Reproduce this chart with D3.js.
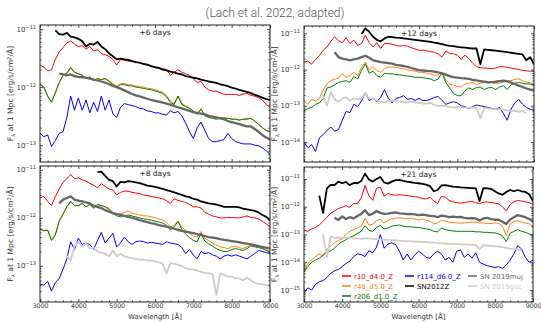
<!DOCTYPE html>
<html>
<head>
<meta charset="utf-8">
<script src="https://cdn.jsdelivr.net/npm/d3@7"></script>
<style>
  body { margin: 0; background: #fff; }
  svg { display: block; }
  text { font-family: "DejaVu Sans", sans-serif; }
</style>
</head>
<body>
<svg id="chart" width="541" height="323"></svg>
<script>
// Wavelength grid (Å) shared by every spectrum
const WAVELENGTH = [3000,3100,3200,3300,3400,3500,3600,3700,3800,3900,
  4000,4100,4200,4300,4400,4500,4600,4700,4800,4900,
  5000,5100,5200,5300,5400,5500,5600,5700,5800,5900,
  6000,6100,6200,6300,6400,6500,6600,6700,6800,6900,
  7000,7100,7200,7300,7400,7500,7600,7700,7800,7900,
  8000,8100,8200,8300,8400,8500,8600,8700,8800,8900,
  9000];

// Flux values are in units of 1e-13 erg/s/cm^2/Å (at 1 Mpc)
const FLUX_UNIT = 1e-13;

const SERIES_KEYS = ["r10", "r48", "r206", "r114", "sn2012z", "sn2019muj", "sn2019gsc"];
const SERIES_LABELS = ["r10_d4.0_Z", "r48_d5.0_Z", "r206_d1.0_Z", "r114_d6.0_Z", "SN2012Z", "SN 2019muj", "SN 2019gsc"];
const EPOCH_LABELS = ["+6 days", "+12 days", "+8 days", "+21 days"];
const X_TICKS = [3000, 4000, 5000, 6000, 7000, 8000, 9000];

// ---- +6 days ----
const flux6_r10 = [
  24,22,19,20,30,40,48,58,62,55,
  50,52,45,50,42,44,38,36,34,30,
  24,30,29,28,28,27,26,25,24,23,
  22,21,21,20,16,18,20,18,17,16,
  14,12,12.5,10,9,8.5,8.5,8,7.5,7.5,
  7.5,7.5,7.2,7.6,7.8,7.2,7,6.6,6,5,
  4.5];
const flux6_r48 = [
  11.5,10,7,5.5,8,12,16,17,21,18,
  17,16,14,15,13,14,13.5,14,13,11.5,
  10.5,11.5,11.5,11,11,10.5,10.2,10,9.6,9.4,
  9,8.6,8.2,7.2,5.8,5.2,7,5.2,4.8,4.4,
  3.9,3.5,4.2,3.3,3.1,3,2.9,3,3,2.9,
  2.8,2.8,2.7,2.8,2.9,2.9,2.6,2.3,2,1.8,
  1.7];
const flux6_r206 = [
  11,10,7,5.5,8,12,16,17.5,22,18,
  17,16,14,15,13,14,13.5,14,12.5,11,
  10,11,11,10.5,10.5,10,9.8,9.5,9.2,9,
  8.6,8.2,7.8,6.8,5.5,5,7,5,4.6,4.3,
  3.8,3.4,4.2,3.2,3,2.9,2.8,2.9,2.9,2.9,
  2.8,2.8,2.7,2.8,2.8,2.9,2.6,2.3,2,1.8,
  1.7];
const flux6_r114 = [
  1.6,1.4,1.5,0.95,1.2,1.6,1.7,3,7,4,
  6.5,4,6,3.6,5.5,3.8,7,4,6,3.5,
  3,4.5,5.2,5,4.8,4.6,4.3,4.2,3.9,3.8,
  3.6,3.6,3.4,3.3,3.9,3.6,3.8,3.2,2.4,1.7,
  1.3,2,2.5,1.8,1.3,1.15,1.15,1.2,1.25,1.6,
  1.3,1.15,1.1,1.05,1.05,1.05,1,0.98,0.9,0.8,
  0.7];
const flux6_sn2012z = [
  null,null,null,null,95,82,80,86,74,72,
  68,62,50,56,54,60,50,45,38,34,
  30,31,30,29.5,28,27,26.5,25,24.5,23,
  22,21.5,20,19.5,18.5,18,17,16.5,15.5,15,
  14.5,14.2,13.5,13,12.5,12.2,11.8,11.2,10.8,10.4,
  9.8,9.4,9,8.6,8.3,7.9,7.4,7,6.6,6.2,
  6];
const flux6_sn2019muj = [
  null,null,null,null,null,17,16.5,16,16.5,15.5,
  15,14.8,14.5,14,13.5,13,12.5,12,11.2,10.5,
  10,9.4,8.8,8.2,7.6,7.2,6.9,6.6,6.3,6,
  5.8,5.6,5.4,5.2,5,4.7,4.5,4.3,4.1,3.9,
  3.7,3.6,3.5,3.4,3.2,3.1,3,2.9,2.8,2.6,
  2.5,2.4,2.3,2.2,2.1,2.1,1.9,1.7,1.5,1.35,
  1.25];

// ---- +12 days ----
const flux12_r10 = [
  16,17,14,19,24,34,42,60,80,62,
  55,75,52,65,46,52,88,55,42,55,
  38,52,52,50,46,44,46,44,40,37,
  34,34,33,31,30,27,22,32,28,27,
  25,19,25,20,15,12,11.2,11,10.8,10.5,
  11,12,12,11.5,11,10.5,10,9.5,9.2,9,
  9];
const flux12_r48 = [
  1.35,1.1,1.5,1.35,1.6,2.7,4,4.9,5.4,5.8,
  7.6,6.1,6.8,8.4,6.8,11.6,16,9.4,12,9.4,
  8.4,10.5,11.6,11.6,11.6,10.9,10.5,9.8,9.4,9,
  8.4,8.4,7.9,7.6,6.8,7.2,8.4,5.1,4,3.7,
  3.4,3.3,4,4.2,4.4,3.8,4.2,4.4,4.7,4.4,
  4,4.2,4.6,4.9,4.9,5.4,5.5,4.9,4.5,4.3,
  4];
const flux12_r206 = [
  0.71,0.84,0.9,1.1,1.2,1.6,3.1,3.3,3.8,4.4,
  4.7,4.9,4.4,6.4,5.5,9.4,14.4,7.9,9,6.8,
  6.1,7.9,7.6,7.6,7.2,7.1,6.8,6.6,6.4,6.1,
  6.1,6,5.7,5.5,4.9,5.5,8.1,4.4,3.1,2.2,
  1.9,1.9,2.6,3.1,2.8,3.2,3.3,2.8,3.1,3.2,
  2.8,3.3,3.6,2.8,3.8,4.2,4.4,4.2,4,4,
  3.6];
const flux12_r114 = [
  0.1,0.07,0.085,0.055,0.13,0.16,0.21,0.26,0.2,0.22,
  0.4,0.7,0.65,1.1,0.95,1.35,2.3,1.4,1.6,1.3,
  1.7,2.8,1.6,1.2,1.6,1.7,1.9,1.5,1.6,1.4,
  1.6,1.4,1.4,1.5,1.7,1.8,1.4,1.1,1.2,1.3,
  1.2,1,0.95,0.85,0.95,1.05,1,0.95,0.9,0.85,
  0.8,0.9,0.62,0.4,0.8,1.2,1.5,1.1,0.9,0.8,
  0.75];
const flux12_sn2012z = [
  null,null,null,null,null,null,null,null,null,null,
  null,null,null,null,null,95,135,110,80,66,
  60,72,80,78,76,75,72,70,68,66,
  64,62,60,58,55,53,50,47,45,44,
  42,41,40,39,38,38,14,36,35,34,
  33,32,31,30,29,28,27,26,18,22,
  14];
const flux12_sn2019muj = [
  null,null,null,null,null,null,null,null,30,22,
  20,19,18,19,20,22,24,21,18,17,
  16,15.5,15,14.5,13.5,13,12.5,11.8,11,10.3,
  9.6,9.4,9.2,9,8.7,8.4,7.8,7.2,6.6,6.2,
  6,5.8,5.7,5.5,5.2,5,4.8,4.6,4.4,4.5,
  4.6,4.8,4.9,4.7,4.4,4,3.6,3.3,3,2.8,
  2.6];
const flux12_sn2019gsc = [
  null,null,null,null,null,1.8,1,2.4,1.5,1.3,
  1.6,1.7,1.4,1.6,1.5,1.6,2.3,1.6,1.6,1.4,
  1.3,1.25,1.35,1.4,1.35,1.3,1.25,1.25,1.3,1.25,
  1.2,1.15,1.15,1.2,1.05,1,1,0.98,0.92,0.9,
  0.92,0.9,0.9,0.88,0.9,0.88,0.45,0.88,0.85,0.82,
  0.8,0.82,0.78,0.75,0.72,0.74,0.68,0.72,0.62,null,
  null];

// ---- +8 days ----
const flux8_r10 = [
  26,28,22,18,28,40,55,65,80,65,
  68,62,58,52,48,42,52,45,40,38,
  30,34,36,36,34,33,32,30,29,28,
  27,26,25,23,20,25,23,22,21,19,
  17,17,16,13,12,11,10.5,10,10,10.2,
  10.2,10,10,10.5,11,10.2,10,9.5,8.5,7.5,
  6.5];
const flux8_r48 = [
  6,5.5,5.5,3.5,4.5,8.5,12,17,22,18,
  18,20,17,19,16,19,18,17,16,13,
  12,12,13,14,12.5,12,11.5,11,11,10.5,
  10.2,9.5,9,8,6.5,7,8.5,6.5,5.5,4.8,
  4.2,4,5.2,3.8,3.4,3,2.7,2.5,2.4,2.3,
  2.5,2.6,2.4,2.3,2.5,2.7,2.6,2.5,2.4,2.2,
  2];
const flux8_r206 = [
  5.8,5.4,5.6,3.4,4.4,8.5,12,17,22,18,
  18,20,17,19,16,19,18,17,15,12.5,
  11,10.5,11,11.5,11,10.5,10,9.6,9.3,9,
  8.6,8.2,7.8,7,5.6,6.5,8.5,5.8,4.6,3.9,
  3.4,3.2,4.8,3.3,2.9,2.6,2.3,2.1,2,2,
  2.2,2.3,2.2,2.1,2.3,2.6,2.5,2.4,2.3,2.1,
  1.9];
const flux8_r114 = [
  0.42,0.4,0.48,0.3,0.45,0.55,0.85,1.4,3.2,2.2,
  3.8,2.8,3,2.8,2.2,3.4,5,3,3.8,4.8,
  2.5,3,4,3.2,2.8,3.2,3.3,3.2,3,3.1,
  3,2.9,2.8,3.2,3,2.9,2.8,2.4,1.8,2.2,
  1.7,1.4,2,1.8,1.9,1.7,1.6,1.4,1.6,1.7,
  1.6,1.7,1.6,1.5,1.4,1.6,1.8,2.1,2,1.9,
  1.8];
const flux8_sn2012z = [
  null,null,null,null,null,null,null,null,null,null,
  null,null,null,null,null,90,92,75,62,58,
  45,56,55,58,57,55,53,50,47,46,
  44,42,40,38,36,34,32,30,28,27,
  25,24,22,21,20,19.5,19,18,17,17,
  17,17,16.5,15.5,15,14.5,14,13,11.5,10.5,
  9];
const flux8_sn2019muj = [
  null,null,null,null,null,20,24,26,28,24,
  23,22,21,20,18,17,16,14.5,13.5,12.5,
  12,11.5,11,10.5,10,9.5,9,8.6,8.2,7.8,
  7.5,7.1,6.8,6.6,6.3,6,5.6,5.4,5.2,5,
  4.8,4.6,4.4,4.2,4,3.9,3.8,3.6,3.5,3.4,
  3.3,3.2,3.1,3,2.9,2.8,2.7,2.6,2.5,2.4,
  2.3];
const flux8_sn2019gsc = [
  null,null,null,null,null,null,null,1.6,1.3,2.6,
  3.2,2.5,3,2.3,2.4,2,1.9,1.8,1.6,2.1,
  1.6,1.8,1.6,1.5,1.45,1.4,1.35,1.35,1.3,1.3,
  1.25,1.2,1.1,0.7,1.15,1.1,1.05,1,0.9,0.85,
  0.85,0.8,0.75,0.72,0.7,0.68,0.25,0.7,0.65,0.6,
  0.6,0.55,0.55,0.5,0.58,0.5,0.45,0.42,0.42,0.4,
  0.4];

// ---- +21 days ----
const flux21_r10 = [
  1.4,1.3,1.6,1.8,2.2,3,4.2,5.8,7,8.6,
  9.5,11,9.5,13,13,21,58,25,17,46,
  50,24,30,27,26,27,26,25,24,23,
  22,20,19,22,16,13,24,22,17,15,
  14,13.5,14,15,15.5,14,13,14.5,15,14,
  13.5,12.5,10,7,12,15,17,16,15,14,
  12];
const flux21_r48 = [
  0.05,0.09,0.12,0.16,0.2,0.17,0.3,0.38,0.5,0.6,
  0.7,1,1.3,1.5,1.7,2,3.8,2.2,2.3,3.2,
  3.6,2.6,3.2,3.6,3.9,4,3.8,3.7,3.9,3.6,
  3.4,3.6,3.3,3,2.4,2.6,3.3,3,2.8,2.7,
  2.6,2.6,2.6,2.7,2.8,2.8,2.6,2.6,2.5,2.5,
  2.6,2.5,2,0.9,2.4,3,3.1,2.8,2.6,2.4,
  2];
const flux21_r206 = [
  0.045,0.07,0.1,0.12,0.14,0.18,0.23,0.26,0.32,0.45,
  0.55,0.65,0.8,0.9,1.1,1.3,2.1,1.4,1.3,1.8,
  2.1,1.6,1.7,2,2.1,2.2,2,1.9,1.9,1.8,
  1.8,1.7,1.6,1.5,1.3,1.25,1.7,1.5,1.4,1.35,
  1.3,1.3,1.3,1.3,1.3,1.25,1.25,1.2,1.2,1.15,
  1.15,1.05,0.9,0.55,1.1,1.3,1.5,1.3,1.2,1.05,
  0.95];
const flux21_r114 = [
  0.008,0.012,0.01,0.016,0.02,0.022,0.028,0.04,0.05,0.055,
  0.07,0.09,0.11,0.16,0.2,0.19,0.16,0.26,0.22,0.35,
  1,0.32,0.45,0.5,0.43,0.25,0.12,0.2,0.12,0.18,
  0.25,0.2,0.15,0.14,0.2,0.25,0.2,0.12,0.15,0.1,
  0.25,0.28,0.15,0.2,0.14,0.22,0.1,0.085,0.075,0.07,
  0.065,0.07,0.06,0.08,0.12,0.2,0.4,0.3,0.15,0.1,
  0.12];
const flux21_sn2012z = [
  null,null,null,null,25,6,46,61,60,80,
  70,78,60,72,70,85,155,95,80,100,
  118,75,68,80,90,92,85,80,76,72,
  70,66,62,55,36,40,58,60,56,53,
  52,50,49,48,47,46,16,47,46,44,
  36,30,27,34,40,36,40,36,34,28,
  16];
const flux21_sn2019muj = [
  null,null,null,null,null,null,null,null,4,3.3,
  4.5,3.6,4.2,3.8,4.6,5.5,7.5,5,5.6,7,
  6,5.5,5.6,6,6.2,5.8,5.6,5.4,5.5,5.3,
  5,5.2,5,4.7,4.6,4.2,4.8,4.6,4.2,4.4,
  4.2,4.3,4,3.8,3.9,3.8,3.2,3.8,4,3.6,
  3.4,3.4,2.9,2.4,3.5,4.2,5,4.6,4.2,3.6,
  3];
const flux21_sn2019gsc = [
  null,null,null,null,null,1,0.15,0.85,0.75,0.78,
  0.75,0.76,0.78,0.72,0.72,0.7,0.72,0.72,0.7,0.7,
  0.66,0.65,0.64,0.63,0.62,0.6,0.59,0.58,0.57,0.56,
  0.54,0.54,0.53,0.52,0.51,0.49,0.48,0.47,0.46,0.46,
  0.45,0.44,0.44,0.43,0.42,0.42,0.3,0.41,0.4,0.39,
  0.38,0.37,0.35,0.33,0.31,0.3,0.29,0.27,null,null,
  null];

// ---------------------------------------------------------------
// Styling and layout
const SERIES_STYLE = {
  r10:       { color: "#ff0000", width: 1.0 },
  r48:       { color: "#ff7f0e", width: 1.0 },
  r206:      { color: "#008000", width: 1.0 },
  r114:      { color: "#0000ff", width: 1.0 },
  sn2012z:   { color: "#000000", width: 1.8 },
  sn2019muj: { color: "#666666", width: 2.3 },
  sn2019gsc: { color: "#cccccc", width: 1.8 }
};

const panels = [
  { label: EPOCH_LABELS[0], box: [40, 270, 25, 162], logRange: [-13.29, -10.93],
    spectra: { r10: flux6_r10, r48: flux6_r48, r206: flux6_r206, r114: flux6_r114,
               sn2012z: flux6_sn2012z, sn2019muj: flux6_sn2019muj } },
  { label: EPOCH_LABELS[1], box: [304, 534, 26, 162], logRange: [-14.55, -10.8],
    spectra: { r10: flux12_r10, r48: flux12_r48, r206: flux12_r206, r114: flux12_r114,
               sn2012z: flux12_sn2012z, sn2019muj: flux12_sn2019muj, sn2019gsc: flux12_sn2019gsc } },
  { label: EPOCH_LABELS[2], box: [40, 270, 166, 302], logRange: [-13.75, -10.92], xLabels: true,
    spectra: { r10: flux8_r10, r48: flux8_r48, r206: flux8_r206, r114: flux8_r114,
               sn2012z: flux8_sn2012z, sn2019muj: flux8_sn2019muj, sn2019gsc: flux8_sn2019gsc } },
  { label: EPOCH_LABELS[3], box: [304, 533, 167, 302], logRange: [-15.43, -10.57], xLabels: true, legend: true,
    spectra: { r10: flux21_r10, r48: flux21_r48, r206: flux21_r206, r114: flux21_r114,
               sn2012z: flux21_sn2012z, sn2019muj: flux21_sn2019muj, sn2019gsc: flux21_sn2019gsc } }
];

const svg = d3.select("#chart");
const TEXT_COLOR = "#333";

svg.append("text")
  .attr("x", 275).attr("y", 17)
  .attr("text-anchor", "middle")
  .style("font-family", "Roboto, sans-serif")
  .style("font-weight", 300)
  .style("font-size", "12px")
  .attr("fill", "#555")
  .text("(Lach et al. 2022, adapted)");

panels.forEach((p, i) => {
  const [x0, x1, y0, y1] = p.box;
  const x = d3.scaleLinear().domain([3000, 9000]).range([x0, x1]);
  const y = d3.scaleLog().domain([Math.pow(10, p.logRange[0]), Math.pow(10, p.logRange[1])]).range([y1, y0]);
  const g = svg.append("g");

  const clipId = "clip" + i;
  g.append("clipPath").attr("id", clipId).append("rect")
    .attr("x", x0).attr("y", y0).attr("width", x1 - x0).attr("height", y1 - y0);

  const plot = g.append("g").attr("clip-path", `url(#${clipId})`);
  const line = d3.line()
    .defined(d => d.f != null)
    .x(d => x(d.w))
    .y(d => y(d.f * FLUX_UNIT));

  SERIES_KEYS.forEach(key => {
    const values = p.spectra[key];
    if (!values) return;
    const pts = WAVELENGTH.map((w, k) => ({ w, f: values[k] }));
    plot.append("path")
      .attr("d", line(pts))
      .attr("fill", "none")
      .attr("stroke", SERIES_STYLE[key].color)
      .attr("stroke-width", SERIES_STYLE[key].width)
      .attr("stroke-linejoin", "round");
  });

  // ticks (pointing inward on all four sides)
  const xMinor = d3.range(3000, 9001, 200).filter(v => v % 1000 !== 0);
  const lo = Math.ceil(p.logRange[0]), hi = Math.floor(p.logRange[1]);
  const yMajor = d3.range(lo, hi + 1).map(e => Math.pow(10, e));
  const yMinor = [];
  for (let e = Math.floor(p.logRange[0]); e <= Math.ceil(p.logRange[1]); e++) {
    for (let m = 2; m <= 9; m++) {
      const v = m * Math.pow(10, e);
      const lv = Math.log10(v);
      if (lv > p.logRange[0] && lv < p.logRange[1]) yMinor.push(v);
    }
  }
  const styleAxis = sel => {
    sel.select(".domain").remove();
    sel.selectAll(".tick line").attr("stroke", "#222").attr("stroke-width", 0.8);
    sel.selectAll(".tick text").attr("fill", TEXT_COLOR)
      .style("font-size", "6.3px").style("letter-spacing", "-0.1px");
  };
  const major = 3, minor = 1.6;
  const bottomAxis = d3.axisBottom(x).tickValues(X_TICKS).tickSize(-major).tickPadding(2)
    .tickFormat(p.xLabels ? d3.format("d") : "");
  g.append("g").attr("transform", `translate(0,${y1})`).call(bottomAxis).call(styleAxis);
  g.append("g").attr("transform", `translate(0,${y1})`)
    .call(d3.axisBottom(x).tickValues(xMinor).tickSize(-minor).tickFormat("")).call(styleAxis);
  g.append("g").attr("transform", `translate(0,${y0})`)
    .call(d3.axisTop(x).tickValues(X_TICKS).tickSize(-major).tickFormat("")).call(styleAxis);
  g.append("g").attr("transform", `translate(0,${y0})`)
    .call(d3.axisTop(x).tickValues(xMinor).tickSize(-minor).tickFormat("")).call(styleAxis);
  g.append("g").attr("transform", `translate(${x0},0)`)
    .call(d3.axisLeft(y).tickValues(yMajor).tickSize(-major).tickFormat("")).call(styleAxis);
  g.append("g").attr("transform", `translate(${x0},0)`)
    .call(d3.axisLeft(y).tickValues(yMinor).tickSize(-minor).tickFormat("")).call(styleAxis);
  g.append("g").attr("transform", `translate(${x1},0)`)
    .call(d3.axisRight(y).tickValues(yMajor).tickSize(-major).tickFormat("")).call(styleAxis);
  g.append("g").attr("transform", `translate(${x1},0)`)
    .call(d3.axisRight(y).tickValues(yMinor).tickSize(-minor).tickFormat("")).call(styleAxis);

  // y tick labels as powers of ten
  yMajor.forEach(v => {
    const t = g.append("text")
      .attr("x", x0 - 4).attr("y", y(v) + 2.5)
      .attr("text-anchor", "end")
      .attr("fill", TEXT_COLOR)
      .style("font-size", "7px");
    t.append("tspan").text("10");
    t.append("tspan").attr("dy", -3).style("font-size", "5px")
      .text("\u2212" + Math.abs(Math.round(Math.log10(v))));
  });

  // frame
  g.append("rect").attr("x", x0).attr("y", y0).attr("width", x1 - x0).attr("height", y1 - y0)
    .attr("fill", "none").attr("stroke", "#222").attr("stroke-width", 1);

  // y axis title
  const yt = g.append("text")
    .attr("transform", `translate(${x0 - 27},${(y0 + y1) / 2}) rotate(-90)`)
    .attr("text-anchor", "middle")
    .attr("fill", TEXT_COLOR)
    .style("font-size", "7.6px");
  yt.append("tspan").text("F");
  yt.append("tspan").attr("dy", 1.8).style("font-size", "5.2px").text("\u03bb");
  yt.append("tspan").attr("dy", -1.8).text(" at 1 Mpc [erg/s/cm");
  yt.append("tspan").attr("dy", -2.5).style("font-size", "5.2px").text("2");
  yt.append("tspan").attr("dy", 2.5).text("/\u00c5]");

  if (p.xLabels) {
    g.append("text")
      .attr("x", (x0 + x1) / 2).attr("y", y1 + 17)
      .attr("text-anchor", "middle")
      .attr("fill", TEXT_COLOR)
      .style("font-size", "7px")
      .text("Wavelength [\u00c5]");
  }

  // epoch label
  g.append("text")
    .attr("x", (x0 + x1) / 2).attr("y", y0 + 10)
    .attr("text-anchor", "middle")
    .attr("fill", "#222")
    .style("font-size", "7.5px")
    .text(p.label);

  if (p.legend) {
    const cols = [[0, 1, 2], [3, 4], [5, 6]];
    const colX = [342, 405, 468];
    cols.forEach((idxs, c) => {
      idxs.forEach((si, r) => {
        const key = SERIES_KEYS[si];
        const ly = 276 + r * 10;
        g.append("line")
          .attr("x1", colX[c]).attr("x2", colX[c] + 9)
          .attr("y1", ly).attr("y2", ly)
          .attr("stroke", SERIES_STYLE[key].color).attr("stroke-width", 1.5);
        g.append("text")
          .attr("x", colX[c] + 12).attr("y", ly + 2.5)
          .attr("fill", SERIES_STYLE[key].color)
          .style("font-size", "7px")
          .text(SERIES_LABELS[si]);
      });
    });
  }
});
</script>
</body>
</html>
